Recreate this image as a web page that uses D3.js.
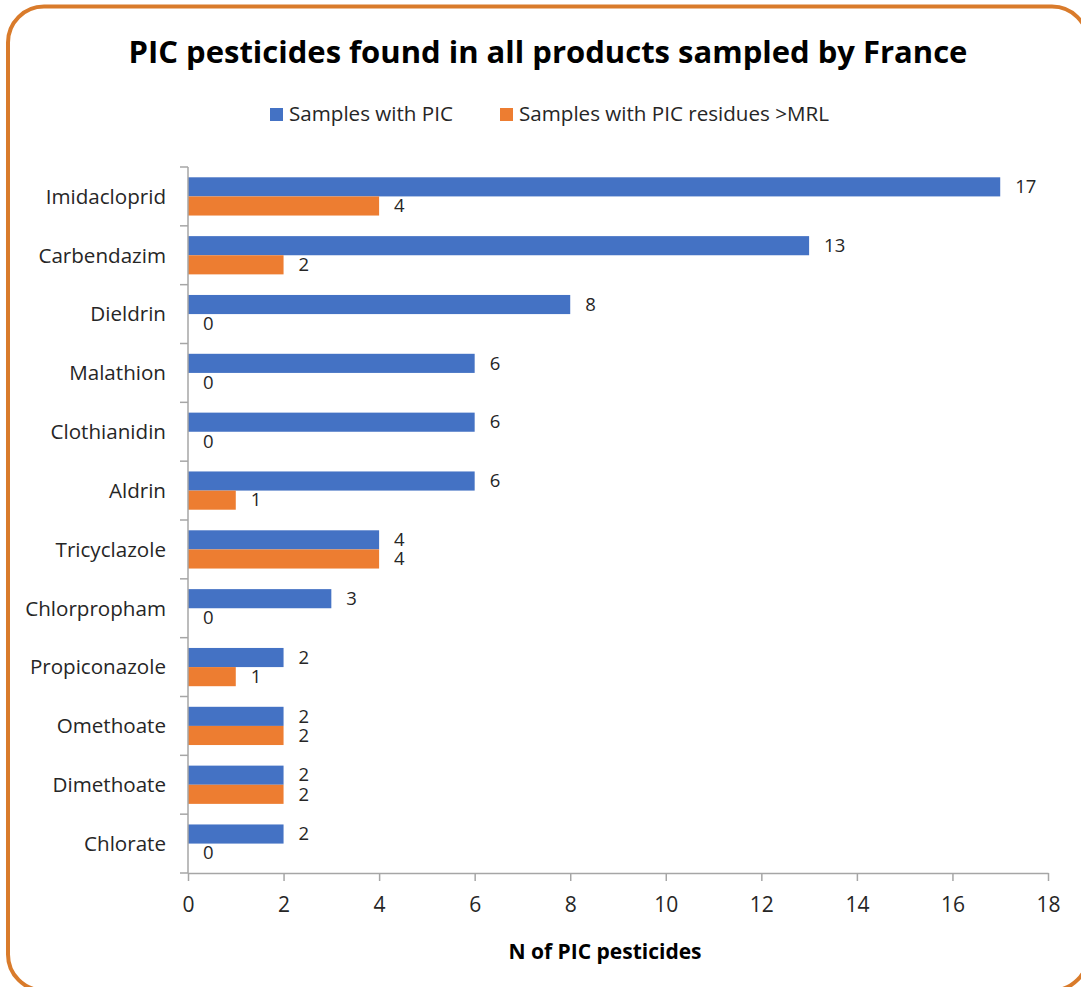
<!DOCTYPE html>
<html>
<head>
<meta charset="utf-8">
<script src="https://cdn.jsdelivr.net/npm/d3@7"></script>
<style>
  html, body { margin: 0; padding: 0; background: #fff; }
  svg { display: block; }
  text { font-family: "Open Sans", "Noto Sans", sans-serif; }
</style>
</head>
<body>
<svg id="chart" width="1081" height="987"></svg>
<script>
// Pesticides, in display order (top to bottom)
const pesticides = ["Imidacloprid", "Carbendazim", "Dieldrin", "Malathion", "Clothianidin", "Aldrin",
  "Tricyclazole", "Chlorpropham", "Propiconazole", "Omethoate", "Dimethoate", "Chlorate"];
// Number of samples with each PIC pesticide
const samplesWithPIC = [17, 13, 8, 6, 6, 6, 4, 3, 2, 2, 2, 2];
// Number of samples with residues above the MRL
const samplesAboveMRL = [4, 2, 0, 0, 0, 1, 4, 0, 1, 2, 2, 0];
const seriesNames = ["Samples with PIC", "Samples with PIC residues >MRL"];
const xTicks = [0, 2, 4, 6, 8, 10, 12, 14, 16, 18];

const colors = ["#4472C4", "#ED7D31"];
const textColor = "#262626";
const svg = d3.select("#chart");

// Rounded frame
svg.append("rect")
  .attr("x", 8).attr("y", 6.5)
  .attr("width", 1080).attr("height", 984)
  .attr("rx", 36).attr("ry", 36)
  .attr("fill", "#fff")
  .attr("stroke", "#D97B2B").attr("stroke-width", 4);

// Title
svg.append("text")
  .attr("x", 548).attr("y", 63)
  .attr("text-anchor", "middle")
  .attr("font-size", 31).attr("font-weight", 700)
  .attr("fill", "#000")
  .text("PIC pesticides found in all products sampled by France");

// Scales
const x = d3.scaleLinear().domain([0, 18]).range([188, 1048]);
const y = d3.scaleBand().domain(pesticides).range([167, 873]).paddingInner(0.35).paddingOuter(0.175);
const sub = d3.scaleBand().domain([0, 1]).range([0, y.bandwidth()]);

// Legend
const legendX = [270, 500];
seriesNames.forEach((name, i) => {
  svg.append("rect").attr("x", legendX[i]).attr("y", 108).attr("width", 13).attr("height", 13).attr("fill", colors[i]);
  svg.append("text").attr("x", legendX[i] + 19).attr("y", 121)
    .attr("font-size", 20.6).attr("fill", textColor).text(name);
});

// Bars + value labels
const rows = pesticides.map((p, i) => ({ name: p, values: [samplesWithPIC[i], samplesAboveMRL[i]] }));
const g = svg.append("g");
rows.forEach(r => {
  r.values.forEach((v, s) => {
    const y0 = y(r.name) + sub(s);
    g.append("rect")
      .attr("x", x(0)).attr("y", y0)
      .attr("width", x(v) - x(0)).attr("height", sub.bandwidth())
      .attr("fill", colors[s]);
    g.append("text")
      .attr("x", x(v) + 15).attr("y", y0 + sub.bandwidth() / 2)
      .attr("dy", "0.34em")
      .attr("font-size", 18.5).attr("fill", textColor)
      .text(v);
  });
});

// Y axis: line, ticks at band boundaries, category labels
const axisColor = "#A6A6A6";
svg.append("line").attr("x1", 188).attr("x2", 188).attr("y1", 167).attr("y2", 873)
  .attr("stroke", axisColor).attr("stroke-width", 1.5);
d3.range(pesticides.length + 1).forEach(k => {
  const yy = 167 + k * (706 / pesticides.length);
  svg.append("line").attr("x1", 180).attr("x2", 188).attr("y1", yy).attr("y2", yy)
    .attr("stroke", axisColor).attr("stroke-width", 1.5);
});
pesticides.forEach(p => {
  svg.append("text")
    .attr("x", 166).attr("y", y(p) + y.bandwidth() / 2)
    .attr("dy", "0.36em").attr("text-anchor", "end")
    .attr("font-size", 20.6).attr("fill", textColor)
    .text(p);
});

// X axis
const xAxis = svg.append("g").attr("transform", "translate(0,873)")
  .call(d3.axisBottom(x).tickValues(xTicks).tickSize(8).tickPadding(16).tickSizeOuter(0));
xAxis.select(".domain").attr("stroke", axisColor).attr("stroke-width", 1.5);
xAxis.selectAll(".tick line").attr("stroke", axisColor).attr("stroke-width", 1.5);
xAxis.selectAll(".tick text").attr("font-size", 21).attr("fill", textColor)
  .attr("font-family", "\"Open Sans\", sans-serif");

// X axis title
svg.append("text")
  .attr("x", 605).attr("y", 959)
  .attr("text-anchor", "middle")
  .attr("font-size", 21).attr("font-weight", 700).attr("fill", "#000")
  .text("N of PIC pesticides");
</script>
</body>
</html>
